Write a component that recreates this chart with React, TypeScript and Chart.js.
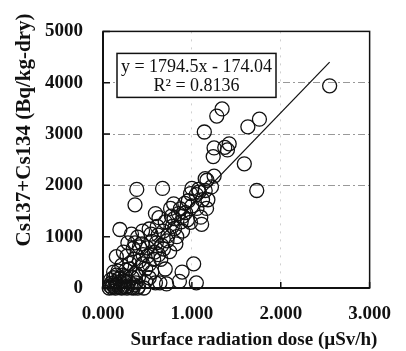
import React, { useEffect, useRef } from 'react';
import { Chart, registerables } from 'chart.js';

Chart.register(...registerables);

// Surface radiation dose (µSv/h)
const doseX = [
  2.55, 1.34, 1.28, 1.76, 1.63, 1.14, 1.42, 1.37, 1.25, 1.40,
  1.24, 1.59, 1.73, 1.25, 1.17, 1.22, 1.15, 1.075, 1.00, 0.985,
  0.67, 0.38, 0.36, 0.795, 0.59, 0.77, 0.87, 0.93, 1.057, 1.165,
  1.12, 1.10, 1.11, 0.985, 0.88, 0.70, 0.68, 0.805, 0.73, 0.82,
  0.75, 0.66, 0.55, 0.54, 0.57, 0.70, 0.64, 0.715, 0.86, 0.89,
  1.02, 1.05, 0.19, 0.15, 0.32, 0.39, 0.445, 0.34, 0.41, 0.30,
  0.37, 0.445, 0.50, 0.55, 0.48, 0.59, 0.27, 0.21, 0.12, 0.086,
  0.16, 0.23, 0.32, 0.46, 0.07, 0.10, 0.13, 0.17, 0.20, 0.25,
  0.28, 0.48, 0.25, 0.37, 0.41, 0.625, 0.895, 0.96, 1.05, 1.08,
  0.92, 0.85, 0.78, 0.62, 0.60, 0.50, 0.45, 0.35, 0.30, 0.26,
  0.22, 0.18, 0.14, 0.11, 0.33, 0.40, 0.52, 0.65, 0.72, 0.90,
  1.00, 0.95, 0.83, 0.63, 0.52, 0.28, 0.36, 0.44, 0.23, 0.17,
  0.15, 0.19, 0.24, 0.29, 0.35, 0.40, 0.52, 0.58, 0.68, 0.12,
  0.09, 0.08, 0.14, 0.21, 0.27, 0.34, 0.39, 0.61, 0.76, 1.15,
  1.18, 0.80,
];

// Cs137+Cs134 (Bq/kg-dry)
const cesiumY = [
  3940, 3490, 3350, 3290, 3140, 3040, 2810, 2740, 2730, 2690,
  2560, 2420, 1900, 2180, 2100, 1970, 2130, 1920, 1940, 1840,
  1940, 1920, 1620, 1640, 1450, 1400, 1540, 1470, 1550, 1550,
  1720, 1380, 1240, 1280, 1290, 1290, 1110, 1160, 1020, 860,
  710, 830, 910, 1050, 560, 370, 100, 80, 130, 310,
  470, 100, 1140, 610, 1050, 990, 1110, 770, 800, 370,
  280, 470, 620, 310, 130, 100, 620, 440, 310, 160,
  70, 40, 10, 0, 0, 10, 20, 30, 15, 20,
  40, 370, 220, 100, 530, 650, 1110, 1700, 1820, 1870,
  1650, 1450, 1200, 1030, 880, 780, 650, 560, 480, 350,
  250, 180, 120, 60, 200, 220, 460, 560, 920, 1400,
  1600, 1330, 1000, 1370, 1150, 880, 880, 860, 700, 330,
  250, 110, 140, 120, 60, 30, 200, 700, 760, 200,
  90, 40, 0, 0, 0, 0, 0, 1200, 1550, 1900,
  1720, 1350,
];

// Regression line end points (y = 1794.5x - 174.04)
const fitLineX = [0.07, 2.55];
const fitLineY = [-48, 4402];

const yTickLabels = ['0', '1000', '2000', '3000', '4000', '5000'];
const xTickLabels = ['0.000', '1.000', '2.000', '3.000'];
const yGridShown = [2000, 3000, 4000];
const xGridShown = [1, 2];

const equationText = 'y = 1794.5x - 174.04';
const r2Text = 'R\u00B2 = 0.8136';
const xTitle = 'Surface radiation dose (\u00B5Sv/h)';
const yTitle = 'Cs137+Cs134 (Bq/kg-dry)';

const SERIF = '"Liberation Serif", "Times New Roman", serif';

const decorPlugin = {
  id: 'decor',
  beforeDatasetsDraw(chart: any) {
    const { ctx, chartArea: a, scales } = chart;
    ctx.save();
    ctx.strokeStyle = '#111';
    ctx.lineWidth = 1.5;
    ctx.strokeRect(a.left, a.top, a.right - a.left, a.bottom - a.top);
    ctx.lineWidth = 2;
    ctx.beginPath();
    ctx.moveTo(a.left, a.top);
    ctx.lineTo(a.left, a.bottom);
    ctx.lineTo(a.right, a.bottom);
    ctx.stroke();
    ctx.lineWidth = 1.5;
    ctx.beginPath();
    scales.y.ticks.forEach((t: any) => {
      const y = scales.y.getPixelForValue(t.value);
      ctx.moveTo(a.left, y);
      ctx.lineTo(a.left + 7, y);
    });
    scales.x.ticks.forEach((t: any) => {
      const x = scales.x.getPixelForValue(t.value);
      ctx.moveTo(x, a.bottom);
      ctx.lineTo(x, a.bottom - 6);
    });
    ctx.stroke();
    ctx.restore();
  },
  afterDraw(chart: any) {
    const { ctx, chartArea: a } = chart;
    ctx.save();
    // equation box
    const bx = a.left + 14;
    const by = a.top + 22;
    const bw = 159;
    const bh = 44;
    ctx.fillStyle = '#fff';
    ctx.fillRect(bx, by, bw, bh);
    ctx.strokeStyle = '#111';
    ctx.lineWidth = 1.5;
    ctx.strokeRect(bx, by, bw, bh);
    ctx.fillStyle = '#111';
    ctx.font = `18px ${SERIF}`;
    ctx.textAlign = 'center';
    ctx.textBaseline = 'middle';
    ctx.fillText(equationText, bx + bw / 2, by + 14);
    ctx.fillText(r2Text, bx + bw / 2, by + 33);
    // axis titles
    ctx.font = `bold 19px ${SERIF}`;
    ctx.fillText(xTitle, a.left + 151, 340);
    ctx.save();
    ctx.translate(25, 130);
    ctx.rotate(-Math.PI / 2);
    ctx.font = `bold 21px ${SERIF}`;
    ctx.fillText(yTitle, 0, 0);
    ctx.restore();
    ctx.restore();
  },
};

export default function App() {
  const ref = useRef<HTMLCanvasElement | null>(null);

  useEffect(() => {
    if (!ref.current) return;
    const points = doseX.map((x, i) => ({ x, y: cesiumY[i] }));
    const line = fitLineX.map((x, i) => ({ x, y: fitLineY[i] }));
    const chart = new Chart(ref.current, {
      type: 'scatter',
      data: {
        datasets: [
          {
            data: points,
            pointRadius: 7,
            pointHoverRadius: 7,
            pointBorderWidth: 1.3,
            pointBorderColor: '#111',
            pointBackgroundColor: 'rgba(255,255,255,0)',
            showLine: false,
            clip: false,
          } as any,
          {
            data: line,
            type: 'line',
            showLine: true,
            borderColor: '#111',
            borderWidth: 1.2,
            pointRadius: 0,
            fill: false,
            clip: false,
          } as any,
        ],
      },
      options: {
        responsive: false,
        animation: false,
        devicePixelRatio: 1,
        layout: { padding: { left: 0, right: 26, top: 16, bottom: 0 } },
        plugins: {
          legend: { display: false },
          tooltip: { enabled: false },
          title: { display: false },
        },
        scales: {
          x: {
            type: 'linear',
            min: 0,
            max: 3,
            afterBuildTicks: (s: any) => {
              s.ticks = xTickLabels.map((_, i) => ({ value: i }));
            },
            afterFit: (s: any) => {
              s.height = 63;
            },
            ticks: {
              callback: (_v: any, i: number) => xTickLabels[i],
              color: '#111',
              font: { family: SERIF, size: 19, weight: 'bold' },
              padding: 15,
              maxRotation: 0,
            },
            grid: {
              drawTicks: false,
              lineWidth: 1,
              color: (c: any) =>
                c.tick && xGridShown.includes(c.tick.value) ? 'rgba(150,150,150,0.45)' : 'rgba(0,0,0,0)',
            },
            border: { display: false, dash: [2, 6] },
          },
          y: {
            type: 'linear',
            min: 0,
            max: 5000,
            afterBuildTicks: (s: any) => {
              s.ticks = yTickLabels.map((_, i) => ({ value: i * 1000 }));
            },
            afterFit: (s: any) => {
              s.width = 103;
            },
            ticks: {
              callback: (_v: any, i: number) => yTickLabels[i],
              color: '#111',
              font: { family: SERIF, size: 19, weight: 'bold' },
              padding: 20,
            },
            grid: {
              drawTicks: false,
              lineWidth: 1,
              color: (c: any) =>
                c.tick && yGridShown.includes(c.tick.value) ? 'rgba(110,110,110,0.7)' : 'rgba(0,0,0,0)',
            },
            border: { display: false, dash: [7, 3, 2, 3] },
          },
        },
      } as any,
      plugins: [decorPlugin],
    });
    return () => chart.destroy();
  }, []);

  return (
    <div style={{ position: 'absolute', left: 0, top: 0, width: 406, height: 351, background: '#fff' }}>
      <canvas ref={ref} width={406} height={351} style={{ display: 'block', width: 406, height: 351 }} />
    </div>
  );
}
